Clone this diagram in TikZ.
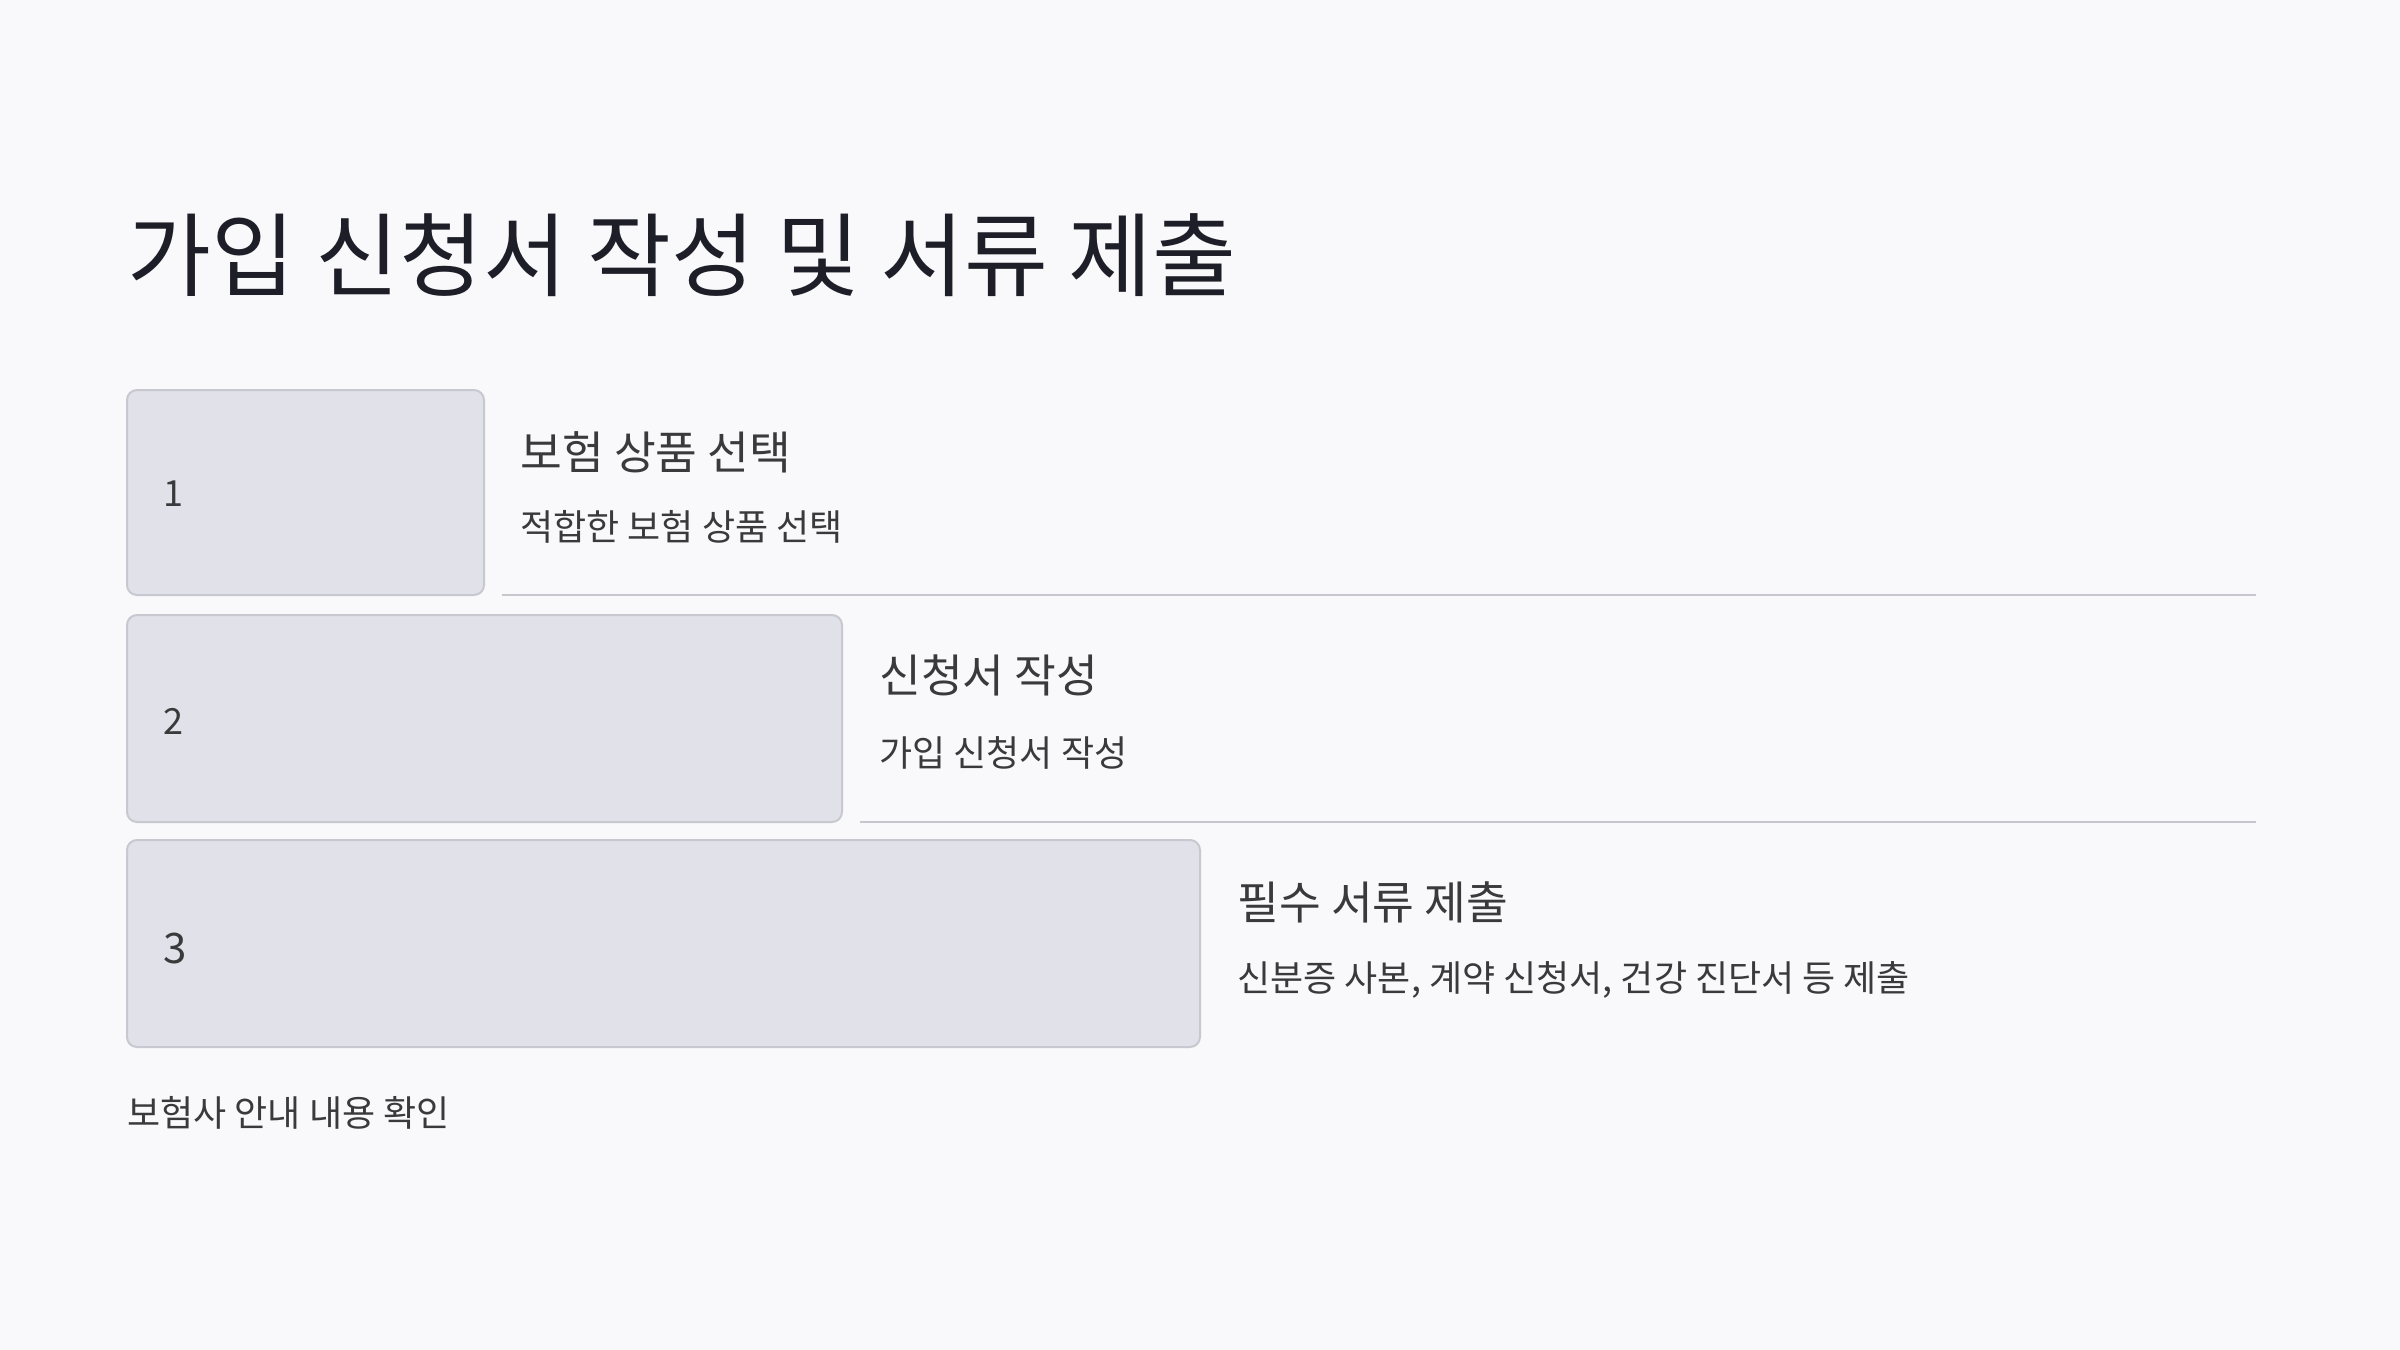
\documentclass[tikz,border=0pt]{standalone}
\usepackage{fontspec}
\setmainfont{Noto Sans CJK KR}
\newfontfamily\krfont{Noto Sans CJK KR}
\definecolor{bgc}{HTML}{F9F9FB}
\definecolor{boxfill}{HTML}{E1E2E9}
\definecolor{boxline}{HTML}{C8C9D0}
\definecolor{titlec}{HTML}{1E1E28}
\definecolor{textc}{HTML}{3A3A3C}
\definecolor{rulec}{HTML}{C6C6CE}
\tikzset{
  stepbox/.style={draw=boxline, line width=1pt, fill=boxfill, rounded corners=5pt},
  numtxt/.style={anchor=west, inner sep=0pt, text=textc, font=\krfont\fontsize{18}{22}\selectfont},
  headtxt/.style={anchor=west, inner sep=0pt, text=textc, font=\krfont\fontsize{22.7}{27}\selectfont},
  subtxt/.style={anchor=west, inner sep=0pt, text=textc, font=\krfont\fontsize{18}{22}\selectfont},
  rulel/.style={draw=rulec, line width=1.2pt}
}
\begin{document}
\begin{tikzpicture}[x=0.5pt,y=-0.5pt]
\useasboundingbox (0,0) rectangle (2400,1350);
\fill[bgc] (0,0) rectangle (2400,1350);
\node[anchor=west, inner sep=0pt, text=titlec, font=\krfont\fontsize{45.6}{54}\selectfont] (title) at (127,255) {가입 신청서 작성 및 서류 제출};
% row 1
\draw[stepbox] (127,390) rectangle (484,595);
\node[numtxt] (n1) at (163,494) {1};
\node[headtxt] (h1) at (520,452) {보험 상품 선택};
\node[subtxt] (s1) at (520,527) {적합한 보험 상품 선택};
\coordinate (l1a) at (502,595);
\coordinate (l1b) at (2256,595);
\draw[rulel] (l1a) -- (l1b);
% row 2
\draw[stepbox] (127,615) rectangle (842,822);
\node[numtxt] (n2) at (163,721) {2};
\node[headtxt] (h2) at (879,675) {신청서 작성};
\node[subtxt] (s2) at (879,753) {가입 신청서 작성};
\coordinate (l2a) at (860,822);
\coordinate (l2b) at (2256,822);
\draw[rulel] (l2a) -- (l2b);
% row 3
\draw[stepbox] (127,840) rectangle (1200,1047);
\node[numtxt, font=\krfont\fontsize{21}{25}\selectfont] (n3) at (163,949) {3};
\node[headtxt] (h3) at (1237,902) {필수 서류 제출};
\node[subtxt] (s3) at (1237,980) {신분증 사본, 계약 신청서, 건강 진단서 등 제출};
% footer
\node[subtxt] (foot) at (127,1113) {보험사 안내 내용 확인};
\end{tikzpicture}
\end{document}
